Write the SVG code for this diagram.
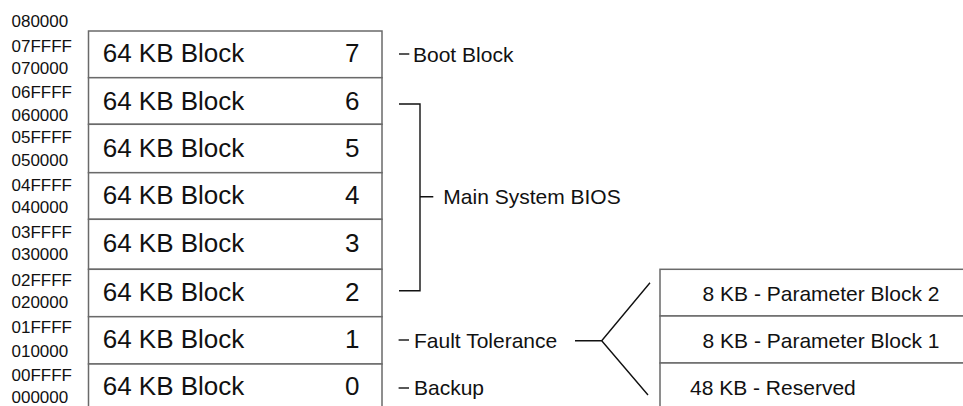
<svg xmlns="http://www.w3.org/2000/svg" width="963" height="406" viewBox="0 0 963 406">
<style>
.addr{font-family:"Liberation Sans",Arial,sans-serif;font-size:17px;fill:#111}
.blk{font-family:"Liberation Sans",Arial,sans-serif;font-size:26px;fill:#111}
.lbl{font-family:"Liberation Sans",Arial,sans-serif;font-size:21px;fill:#111}
.box{fill:#fff;stroke:#6a6a6a;stroke-width:1.5}
.ln{fill:none;stroke:#111;stroke-width:1.4}
</style>
<rect width="963" height="406" fill="#fff"/>
<g id="addresses">
<text class="addr" x="11.5" y="27.3">080000</text>
<text class="addr" x="11.5" y="52.3">07FFFF</text>
<text class="addr" x="11.5" y="74">070000</text>
<text class="addr" x="11.5" y="98.3">06FFFF</text>
<text class="addr" x="11.5" y="120.7">060000</text>
<text class="addr" x="11.5" y="143.3">05FFFF</text>
<text class="addr" x="11.5" y="166">050000</text>
<text class="addr" x="11.5" y="191">04FFFF</text>
<text class="addr" x="11.5" y="213.3">040000</text>
<text class="addr" x="11.5" y="237.7">03FFFF</text>
<text class="addr" x="11.5" y="260">030000</text>
<text class="addr" x="11.5" y="286">02FFFF</text>
<text class="addr" x="11.5" y="308">020000</text>
<text class="addr" x="11.5" y="332.7">01FFFF</text>
<text class="addr" x="11.5" y="356.7">010000</text>
<text class="addr" x="11.5" y="380.7">00FFFF</text>
<text class="addr" x="11.5" y="403">000000</text>
</g>
<g id="block7"><rect class="box" x="88.5" y="31" width="293.5" height="46.7"/><text class="blk" x="102.7" y="62.3">64 KB Block</text><text class="blk" x="359.5" y="62.3" text-anchor="end">7</text></g>
<g id="block6"><rect class="box" x="88.5" y="77.7" width="293.5" height="46.6"/><text class="blk" x="102.7" y="110">64 KB Block</text><text class="blk" x="359.5" y="110" text-anchor="end">6</text></g>
<g id="block5"><rect class="box" x="88.5" y="124.3" width="293.5" height="48.4"/><text class="blk" x="102.7" y="157.3">64 KB Block</text><text class="blk" x="359.5" y="157.3" text-anchor="end">5</text></g>
<g id="block4"><rect class="box" x="88.5" y="172.7" width="293.5" height="46.6"/><text class="blk" x="102.7" y="204">64 KB Block</text><text class="blk" x="359.5" y="204" text-anchor="end">4</text></g>
<g id="block3"><rect class="box" x="88.5" y="219.3" width="293.5" height="50"/><text class="blk" x="102.7" y="251.7">64 KB Block</text><text class="blk" x="359.5" y="251.7" text-anchor="end">3</text></g>
<g id="block2"><rect class="box" x="88.5" y="269.3" width="293.5" height="47.4"/><text class="blk" x="102.7" y="300.7">64 KB Block</text><text class="blk" x="359.5" y="300.7" text-anchor="end">2</text></g>
<g id="block1"><rect class="box" x="88.5" y="316.7" width="293.5" height="47.3"/><text class="blk" x="102.7" y="348.3">64 KB Block</text><text class="blk" x="359.5" y="348.3" text-anchor="end">1</text></g>
<g id="block0"><rect class="box" x="88.5" y="364" width="293.5" height="50"/><text class="blk" x="102.7" y="395">64 KB Block</text><text class="blk" x="359.5" y="395" text-anchor="end">0</text></g>
<g id="label-boot"><text class="lbl" x="413" y="61.7">Boot Block</text></g>
<g id="label-bios"><text class="lbl" x="443.3" y="204">Main System BIOS</text></g>
<g id="label-fault"><text class="lbl" x="414" y="347.5">Fault Tolerance</text></g>
<g id="label-backup"><text class="lbl" x="414" y="395">Backup</text></g>
<g id="param2"><rect class="box" x="660" y="269.3" width="320" height="46.7"/><text class="lbl" x="821" y="300.5" text-anchor="middle">8 KB - Parameter Block 2</text></g>
<g id="param1"><rect class="box" x="660" y="316" width="320" height="47"/><text class="lbl" x="821" y="347.5" text-anchor="middle">8 KB - Parameter Block 1</text></g>
<g id="reserved"><rect class="box" x="660" y="363" width="320" height="50"/><text class="lbl" x="690" y="395">48 KB - Reserved</text></g>
<g id="connectors">
<line class="ln" x1="399" y1="54" x2="409.3" y2="54"/>
<path class="ln" d="M399 104H420V290.7H399M420 196.7H433.3"/>
<line class="ln" x1="398.6" y1="340" x2="409" y2="340"/>
<line class="ln" x1="398.6" y1="388" x2="409" y2="388"/>
<path class="ln" d="M575 340.7H601.7L650 282.7M601.7 340.7L648 395"/>
</g>
</svg>
